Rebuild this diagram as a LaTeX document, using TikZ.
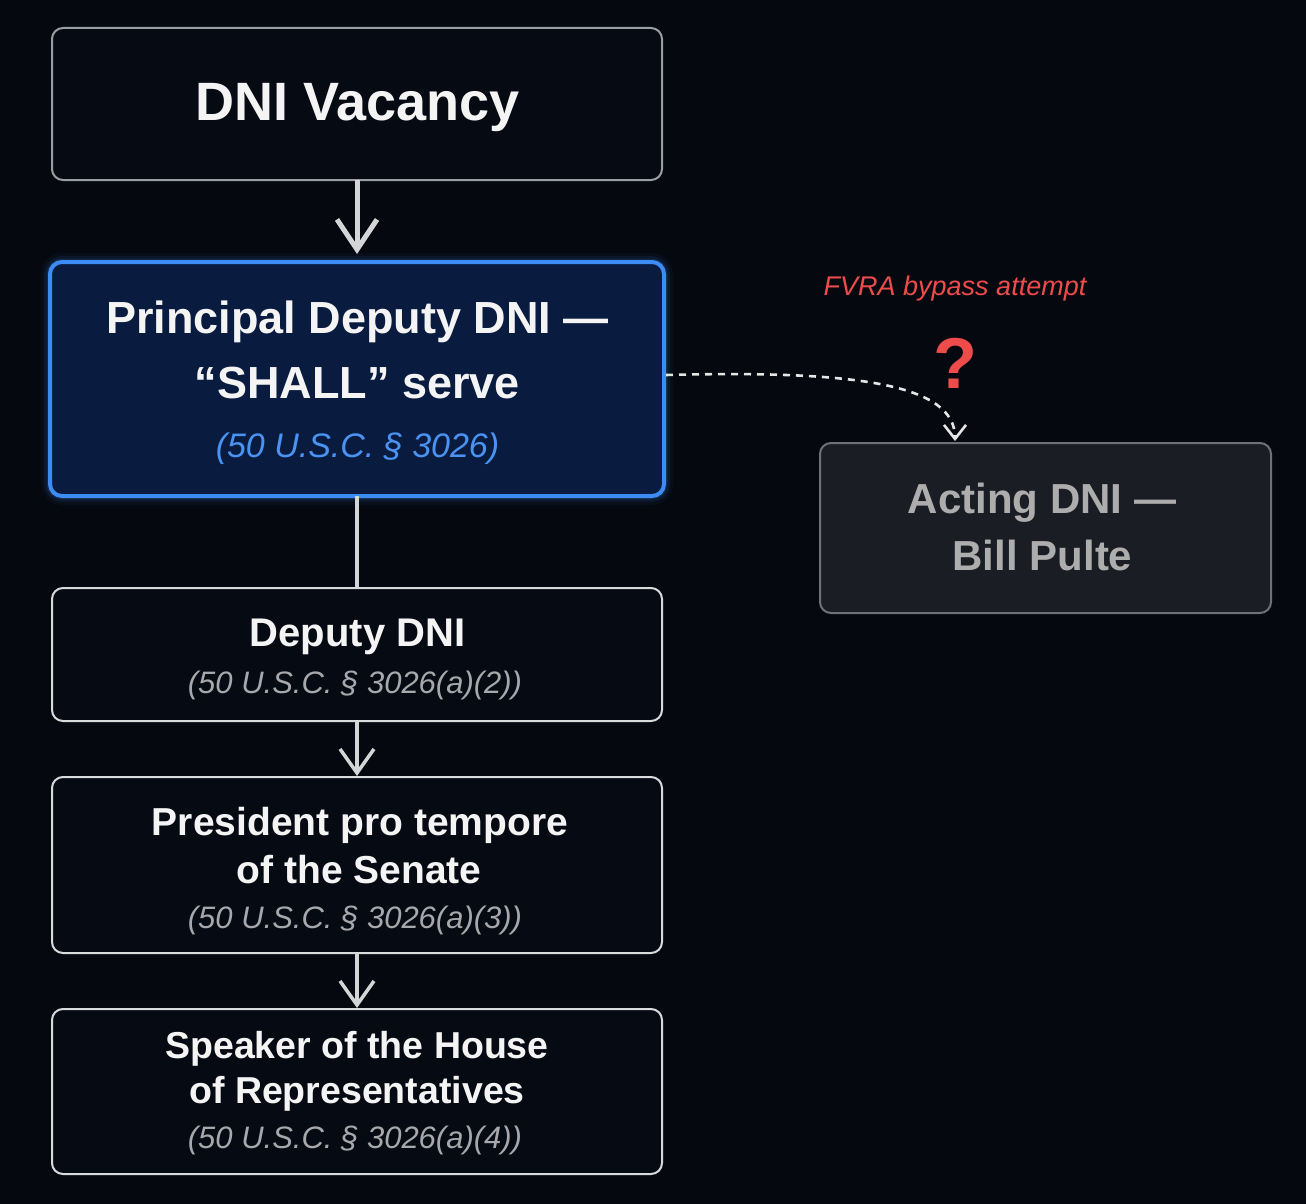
\documentclass[tikz,border=0pt]{standalone}
\usepackage{fontspec}
\setmainfont{Liberation Sans}
\usetikzlibrary{arrows.meta}
\definecolor{bg}{HTML}{05080F}
\definecolor{boxfill}{HTML}{060A13}
\definecolor{edgegray}{HTML}{9A9DA2}
\definecolor{edgelight}{HTML}{D9DADC}
\definecolor{pdfill}{HTML}{091C40}
\definecolor{pdedge}{HTML}{3D8BF5}
\definecolor{citeblue}{HTML}{4A93F2}
\definecolor{citegray}{HTML}{A6A8AB}
\definecolor{actfill}{HTML}{1A1D23}
\definecolor{actedge}{HTML}{6E7278}
\definecolor{acttext}{HTML}{ADADAD}
\definecolor{alertred}{HTML}{EE4B4B}
\definecolor{arrowgray}{HTML}{D4D5D7}
\definecolor{titlewhite}{HTML}{F4F4F4}
\tikzset{
  box/.style={draw=edgelight, rounded corners=11pt, inner sep=0pt, outer sep=0pt, line width=2pt, fill=boxfill},
  titletext/.style={anchor=base, text=titlewhite, inner sep=0pt, font=\bfseries\fontsize{40}{48}\selectfont},
  citetext/.style={anchor=base, text=citegray, inner sep=0pt, font=\itshape\fontsize{31}{36}\selectfont},
  flow/.style={draw=arrowgray, line width=3.5pt, -{Straight Barb[length=24pt,width=34pt]}},
}
\begin{document}
\begin{tikzpicture}[x=1pt,y=-1pt]
\useasboundingbox (0,0) rectangle (1306,1204);
\fill[bg] (0,0) rectangle (1306,1204);

% boxes
\node[box, draw=edgegray, minimum width=610pt, minimum height=152pt] (vac) at (357,104) {};
% glow for principal deputy box
\foreach \w/\o in {18/0.05,12/0.08,7/0.14}{
  \draw[pdedge, opacity=\o, line width=\w pt, rounded corners=12pt] (50,262) rectangle (664,496);
}
\node[box, draw=pdedge, fill=pdfill, line width=4pt, rounded corners=12pt, minimum width=614pt, minimum height=234pt] (pd) at (357,379) {};
\node[box, minimum width=610pt, minimum height=133pt] (dep) at (357,654.5) {};
\node[box, minimum width=610pt, minimum height=176pt] (pres) at (357,865) {};
\node[box, minimum width=610pt, minimum height=165pt] (spk) at (357,1091.5) {};
\node[box, draw=actedge, fill=actfill, minimum width=451pt, minimum height=170pt] (act) at (1045.5,528) {};

% texts
\node[titletext, font=\bfseries\fontsize{54}{60}\selectfont] (vact) at (357.5,121) {DNI Vacancy};
\node[titletext, font=\bfseries\fontsize{45}{52}\selectfont] (pdt1) at (357.5,333) {Principal Deputy DNI —};
\node[titletext, font=\bfseries\fontsize{45}{52}\selectfont] (pdt2) at (357.5,398) {“SHALL” serve};
\node[citetext, text=citeblue, font=\itshape\fontsize{34}{40}\selectfont] (pdc) at (357.5,457) {(50 U.S.C. § 3026)};

\node[titletext] (dept) at (357.5,646) {Deputy DNI};
\node[citetext] (depc) at (355,693) {(50 U.S.C. § 3026(a)(2))};

\node[titletext, font=\bfseries\fontsize{39}{46}\selectfont] (prest1) at (360,835) {President pro tempore};
\node[titletext, font=\bfseries\fontsize{39}{46}\selectfont] (prest2) at (359,883) {of the Senate};
\node[citetext] (presc) at (355,928) {(50 U.S.C. § 3026(a)(3))};

\node[titletext, font=\bfseries\fontsize{37.5}{44}\selectfont] (spkt1) at (357,1058) {Speaker of the House};
\node[titletext, font=\bfseries\fontsize{37.5}{44}\selectfont] (spkt2) at (357,1103) {of Representatives};
\node[citetext] (spkc) at (355,1148) {(50 U.S.C. § 3026(a)(4))};

\node[titletext, text=acttext, font=\bfseries\fontsize{42}{48}\selectfont] (actt1) at (1042,513) {Acting DNI —};
\node[titletext, text=acttext, font=\bfseries\fontsize{42}{48}\selectfont] (actt2) at (1042.5,570) {Bill Pulte};

\node[anchor=base, inner sep=0pt, text=alertred, font=\itshape\fontsize{27}{32}\selectfont] (fvra) at (955,295) {FVRA bypass attempt};
\node[anchor=base, inner sep=0pt, text=alertred, font=\bfseries\fontsize{72}{80}\selectfont] (qm) at (955,388) {?};

% connectors
\draw[flow, line width=5pt, -{Straight Barb[length=30pt,width=40pt]}, shorten >=8pt] (vac.south) -- (pd.north);
\draw[draw=arrowgray, line width=3.5pt] (pd.south) -- (dep.north);
\draw[flow, shorten >=1pt] (dep.south) -- (pres.north);
\draw[flow, shorten >=1pt] (pres.south) -- (spk.north);

\coordinate (pdout) at (666,375);
\coordinate (acttop) at (955,441);
\draw[draw=white!90!black, line width=2.6pt, dash pattern=on 7pt off 6pt,
      -{Straight Barb[length=14pt,width=22pt]}]
  (pdout) .. controls (860,370) and (955,385) .. (acttop);
\end{tikzpicture}
\end{document}
